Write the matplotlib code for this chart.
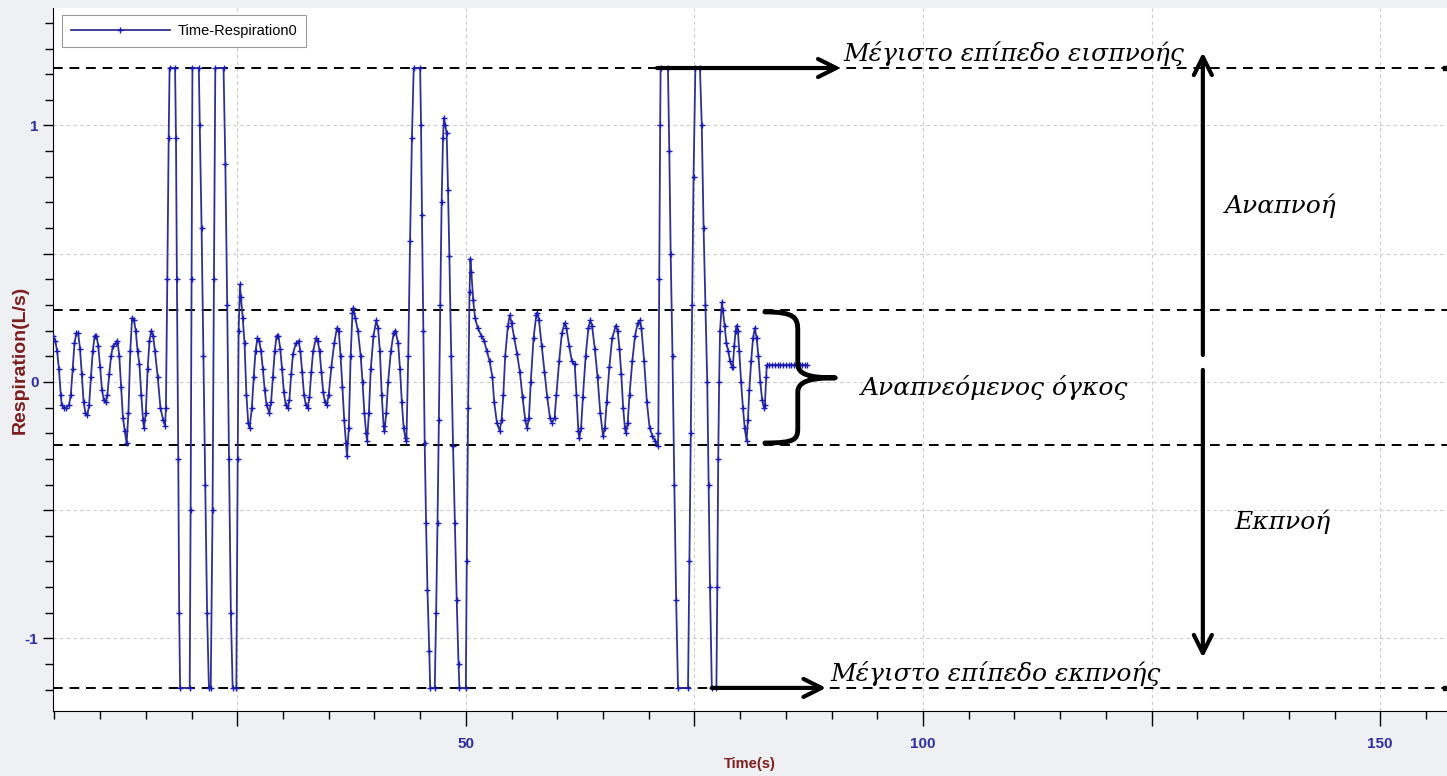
import numpy as np
import matplotlib
matplotlib.use("Agg")
import matplotlib.pyplot as plt
from matplotlib.path import Path
from matplotlib.patches import PathPatch
from matplotlib.ticker import MultipleLocator, FuncFormatter

# ── δεδομένα (διαβασμένα από την εικόνα) ─────────────────────────────────────
time_s = [
    # ήρεμη αναπνοή 1
    4.9, 5.1, 5.3, 5.5, 5.7, 5.8, 6.0, 6.3, 6.6, 6.8, 7.0, 7.2, 7.4, 7.6, 7.8,
    8.0, 8.2, 8.4, 8.6, 8.8, 9.0, 9.2, 9.4, 9.6, 9.8, 10.0, 10.2, 10.4, 10.6,
    10.8, 11.0, 11.2, 11.4, 11.7, 11.9, 12.1, 12.3, 12.5, 12.7, 12.9, 13.1,
    13.3, 13.5, 13.7, 13.9, 14.1, 14.3, 14.5, 14.7, 14.8, 15.0, 15.2, 15.4,
    15.6, 15.8, 16.0, 16.3, 16.6, 16.9, 17.1,
    # βαθιές αναπνοές 1
    17.2, 17.35, 17.5, 17.6, 18.2, 18.3, 18.4, 18.55, 18.65, 18.75, 19.8,
    19.9, 20.0, 20.1, 20.8, 20.9, 21.1, 21.3, 21.5, 21.7, 21.9, 22.1, 22.3,
    22.45, 22.6, 23.5, 23.7, 23.9, 24.1, 24.3, 24.5, 24.9, 25.05, 25.15,
    25.3, 25.4, 25.6, 25.8, 26.0, 26.2, 26.35,
    # ήρεμη αναπνοή 2
    26.6, 26.8, 27.0, 27.2, 27.4, 27.6, 27.8, 28.0, 28.2, 28.5, 28.7, 28.9,
    29.1, 29.3, 29.5, 29.7, 29.9, 30.1, 30.3, 30.5, 30.7, 30.9, 31.1, 31.4,
    31.7, 31.9, 32.1, 32.3, 32.5, 32.7, 32.9, 33.1, 33.3, 33.6, 33.8, 34.0,
    34.2, 34.4, 34.6, 34.8, 35.0, 35.3, 35.6, 35.9, 36.1, 36.3, 36.5, 36.7,
    36.9, 37.0, 37.2, 37.4, 37.6, 37.7, 37.9, 38.2, 38.5, 38.7, 38.9, 39.1,
    39.2, 39.4, 39.6, 39.9, 40.2, 40.4, 40.6, 40.8, 41.0, 41.1, 41.3, 41.5,
    41.8, 42.1, 42.3, 42.6, 42.8, 43.0, 43.2, 43.4, 43.5,
    # βαθιές αναπνοές 2
    43.7, 43.9, 44.1, 44.3, 45.0, 45.1, 45.2, 45.35, 45.5, 45.65, 45.8, 46.0,
    46.1, 46.6, 46.75, 46.9, 47.05, 47.2, 47.35, 47.5, 47.6, 47.75, 47.9,
    48.05, 48.2, 48.4, 48.6, 48.8, 49.0, 49.2, 49.3, 50.0, 50.1, 50.25,
    50.4, 50.5,
    # ήρεμη αναπνοή 3
    50.6, 50.8, 51.0, 51.3, 51.7, 52.0, 52.3, 52.6, 52.9, 53.1, 53.4, 53.7,
    53.9, 54.1, 54.3, 54.6, 54.8, 55.0, 55.3, 55.6, 55.9, 56.2, 56.5, 56.7,
    56.9, 57.1, 57.4, 57.7, 57.8, 58.0, 58.3, 58.6, 58.9, 59.2, 59.4, 59.7,
    59.9, 60.2, 60.5, 60.8, 61.0, 61.3, 61.6, 61.9, 62.1, 62.3, 62.4, 62.6,
    62.8, 63.1, 63.4, 63.6, 63.8, 64.1, 64.4, 64.7, 65.0, 65.2, 65.4, 65.7,
    66.0, 66.4, 66.6, 66.8, 67.0, 67.2, 67.4, 67.5, 67.7, 67.9, 68.2, 68.5,
    68.8, 69.0, 69.2, 69.5, 69.8, 70.1, 70.4, 70.7, 71.0,
    # βαθιές αναπνοές 3
    71.05, 71.15, 71.25, 71.3, 72.1, 72.25, 72.4, 72.6, 72.8, 73.0, 73.2,
    74.3, 74.45, 74.6, 74.75, 74.9, 75.1, 75.6, 75.8, 76.0, 76.2, 76.4,
    76.55, 76.7, 76.9, 77.4, 77.5, 77.6, 77.7, 77.8, 78.0,
    # ήρεμη αναπνοή 4 + σταθερό τμήμα
    78.1, 78.3, 78.5, 78.7, 78.9, 79.1, 79.2, 79.35, 79.5, 79.6, 79.75, 79.9,
    80.1, 80.3, 80.5, 80.7, 80.85, 81.0, 81.2, 81.4, 81.6, 81.8, 82.0, 82.2,
    82.4, 82.6, 82.7, 82.85, 82.9, 83.2, 83.5, 83.8, 84.1, 84.4, 84.7, 85.0,
    85.3, 85.6, 85.9, 86.2, 86.5, 86.8, 87.1, 87.3,
]
resp = [
    # ήρεμη αναπνοή 1
    0.18, 0.16, 0.12, 0.05, -0.05, -0.09, -0.10, -0.10, -0.09, -0.05, 0.05,
    0.15, 0.19, 0.19, 0.13, 0.03, -0.08, -0.12, -0.13, -0.09, 0.02, 0.12,
    0.18, 0.18, 0.14, 0.06, -0.03, -0.07, -0.08, -0.05, 0.03, 0.10, 0.14,
    0.15, 0.16, 0.10, -0.02, -0.14, -0.19, -0.24, -0.12, 0.12, 0.25, 0.24,
    0.20, 0.12, 0.07, -0.05, -0.15, -0.18, -0.12, 0.05, 0.16, 0.20, 0.18,
    0.12, 0.02, -0.10, -0.15, -0.17,
    # βαθιές αναπνοές 1
    -0.10, 0.40, 0.95, 1.224, 1.224, 0.95, 0.40, -0.30, -0.90, -1.193,
    -1.193, -0.50, 0.40, 1.224, 1.224, 1.00, 0.60, 0.10, -0.40, -0.90,
    -1.193, -1.193, -0.50, 0.40, 1.224, 1.224, 0.85, 0.30, -0.30, -0.90,
    -1.193, -1.193, -0.30, 0.20, 0.38, 0.33, 0.25, 0.15, -0.05, -0.16, -0.18,
    # ήρεμη αναπνοή 2
    -0.10, 0.02, 0.12, 0.17, 0.16, 0.12, 0.05, -0.03, -0.09, -0.12, -0.08,
    0.02, 0.12, 0.18, 0.18, 0.13, 0.05, -0.04, -0.09, -0.10, -0.07, 0.03,
    0.11, 0.15, 0.16, 0.12, 0.04, -0.05, -0.09, -0.10, -0.06, 0.04, 0.12,
    0.17, 0.16, 0.12, 0.04, -0.04, -0.08, -0.09, -0.05, 0.06, 0.15, 0.21,
    0.20, 0.10, -0.02, -0.15, -0.24, -0.29, -0.18, 0.10, 0.27, 0.29, 0.25,
    0.20, 0.10, 0.00, -0.12, -0.20, -0.23, -0.12, 0.05, 0.18, 0.24, 0.21,
    0.12, -0.05, -0.17, -0.19, -0.12, 0.00, 0.12, 0.19, 0.20, 0.15, 0.05,
    -0.08, -0.18, -0.22, -0.23,
    # βαθιές αναπνοές 2
    0.10, 0.55, 0.95, 1.224, 1.224, 1.00, 0.65, 0.20, -0.24, -0.55, -0.81,
    -1.05, -1.193, -1.193, -0.90, -0.55, -0.15, 0.30, 0.70, 0.95, 1.03,
    1.00, 0.97, 0.75, 0.49, 0.10, -0.25, -0.55, -0.85, -1.10, -1.193,
    -1.193, -0.70, -0.10, 0.35, 0.48,
    # ήρεμη αναπνοή 3
    0.43, 0.32, 0.25, 0.21, 0.18, 0.16, 0.12, 0.08, 0.02, -0.08, -0.16,
    -0.19, -0.15, -0.05, 0.10, 0.22, 0.26, 0.23, 0.17, 0.11, 0.04, -0.06,
    -0.15, -0.18, -0.14, 0.00, 0.17, 0.26, 0.27, 0.24, 0.14, 0.04, -0.06,
    -0.14, -0.16, -0.14, -0.05, 0.08, 0.19, 0.23, 0.21, 0.14, 0.08, 0.07,
    -0.05, -0.19, -0.22, -0.18, -0.06, 0.10, 0.21, 0.24, 0.22, 0.13, 0.02,
    -0.12, -0.21, -0.18, -0.08, 0.06, 0.17, 0.22, 0.20, 0.13, 0.03, -0.10,
    -0.18, -0.20, -0.16, -0.05, 0.08, 0.18, 0.23, 0.24, 0.21, 0.08, -0.08,
    -0.18, -0.21, -0.23, -0.25,
    # βαθιές αναπνοές 3
    -0.20, 0.40, 1.00, 1.224, 1.224, 0.90, 0.50, 0.10, -0.40, -0.85,
    -1.193, -1.193, -0.70, -0.20, 0.30, 0.80, 1.224, 1.224, 1.00, 0.60,
    0.30, 0.00, -0.40, -0.80, -1.193, -1.193, -0.80, -0.30, 0.00, 0.20, 0.31,
    # ήρεμη αναπνοή 4 + σταθερό τμήμα
    0.28, 0.22, 0.15, 0.12, 0.08, 0.06, 0.06, 0.14, 0.20, 0.22, 0.20, 0.12,
    0.00, -0.10, -0.18, -0.23, -0.15, -0.03, 0.08, 0.17, 0.21, 0.17, 0.10,
    0.00, -0.07, -0.10, -0.09, 0.02, 0.066, 0.066, 0.066, 0.066, 0.066,
    0.066, 0.066, 0.066, 0.066, 0.066, 0.066, 0.066, 0.066, 0.066, 0.066,
    0.066,
]

# οριζόντιες διακεκομμένες: μέγιστη εισπνοή, όρια αναπνεόμενου όγκου, μέγιστη εκπνοή
ref_levels = [1.224, 0.281, -0.246, -1.193]

x_lim = (4.85, 157.3)
y_lim = (-1.283, 1.458)

LINE_C = "#2f3190"
MARK_C = "#1a1ab8"
TICK_C = "#2e2e9e"
LABEL_C = "#7d1d1d"
GREEK = dict(family="DejaVu Serif", style="italic", fontsize=18, color="black")

fig = plt.figure(figsize=(14.47, 7.76), dpi=100, facecolor="#eff0f3")
ax = fig.add_axes([53 / 1447, 65 / 776, 1394 / 1447, 703 / 776])
ax.set_facecolor("white")

ax.plot(time_s, resp, "-", color=LINE_C, lw=1.3, marker="+", ms=4.5,
        mec=MARK_C, mew=1.0, label="Time-Respiration0", zorder=3)

for lvl in ref_levels:
    ax.axhline(lvl, color="black", lw=1.4, ls=(0, (5, 3.5)), zorder=2)
for lvl in (ref_levels[0], ref_levels[-1]):
    ax.plot(x_lim[1] - 0.25, lvl, "s", color="black", ms=3, zorder=4)

ax.set_xlim(*x_lim)
ax.set_ylim(*y_lim)

# άξονες / ticks
ax.xaxis.set_major_locator(MultipleLocator(25))
ax.xaxis.set_minor_locator(MultipleLocator(5))
ax.yaxis.set_major_locator(MultipleLocator(0.5))
ax.yaxis.set_minor_locator(MultipleLocator(0.1))
ax.xaxis.set_major_formatter(FuncFormatter(lambda v, p: f"{v:.0f}" if v % 50 == 0 else ""))
ax.yaxis.set_major_formatter(FuncFormatter(lambda v, p: f"{v:.0f}" if abs(v - round(v)) < 1e-6 else ""))
ax.tick_params(which="major", direction="out", length=11, width=1, color="black",
               labelcolor=TICK_C, labelsize=11)
ax.tick_params(which="minor", direction="out", length=6, width=1, color="black")
ax.tick_params(axis="y", which="major", length=7)
ax.tick_params(axis="x", which="major", pad=8)
for lab in ax.get_xticklabels() + ax.get_yticklabels():
    lab.set_fontweight("bold")
    lab.set_family("Liberation Sans")
ax.grid(True, which="major", color="#c9c9c9", ls=(0, (3, 3)), lw=0.8)
for s in ("top", "right"):
    ax.spines[s].set_visible(False)

ax.set_xlabel("Time(s)", color=LABEL_C, fontsize=10.5, fontweight="bold",
              family="Liberation Sans", labelpad=4)
ax.set_ylabel("Respiration(L/s)", color=LABEL_C, fontsize=14, fontweight="bold",
              family="Liberation Sans", labelpad=-3)

leg = ax.legend(loc="upper left", bbox_to_anchor=(0.0065, 0.99), borderaxespad=0,
                fancybox=False, edgecolor="#9a9a9a", framealpha=1,
                handlelength=6.8, handletextpad=0.5, borderpad=0.6,
                prop=dict(family="Liberation Sans", size=10.5))
leg.get_frame().set_linewidth(0.8)

# ── σχόλια ───────────────────────────────────────────────────────────────────
arrow = dict(arrowstyle="->,head_length=1.3,head_width=0.65", color="black",
             lw=3, shrinkA=0, shrinkB=0)
ax.annotate("", xy=(91.0, ref_levels[0]), xytext=(70.9, ref_levels[0]), arrowprops=arrow)
ax.annotate("", xy=(89.4, ref_levels[-1]), xytext=(76.9, ref_levels[-1]), arrowprops=arrow)
ax.annotate("", xy=(130.6, 1.285), xytext=(130.6, 0.105), arrowprops=arrow)
ax.annotate("", xy=(130.6, -1.075), xytext=(130.6, 0.047), arrowprops=arrow)

ax.text(91.3, 1.25, "Μέγιστο επίπεδο εισπνοής", va="baseline", **GREEK)
ax.text(89.9, -1.165, "Μέγιστο επίπεδο εκπνοής", va="baseline", **GREEK)
ax.text(133.0, 0.66, "Αναπνοή", va="baseline", **GREEK)
ax.text(134.0, -0.575, "Εκπνοή", va="baseline", **GREEK)
ax.text(93.2, -0.05, "Αναπνεόμενος όγκος", va="baseline", **GREEK)

# άγκιστρο
verts = [
    (82.7, 0.273), (86.0, 0.273), (86.3, 0.25), (86.3, 0.20),
    (86.3, 0.07),
    (86.3, 0.03), (87.5, 0.016), (90.4, 0.016),
    (87.5, 0.016), (86.3, 0.0), (86.3, -0.04),
    (86.3, -0.18),
    (86.3, -0.225), (86.0, -0.238), (82.7, -0.238),
]
codes = [Path.MOVETO, Path.CURVE4, Path.CURVE4, Path.CURVE4, Path.LINETO,
         Path.CURVE4, Path.CURVE4, Path.CURVE4, Path.CURVE4, Path.CURVE4,
         Path.CURVE4, Path.LINETO, Path.CURVE4, Path.CURVE4, Path.CURVE4]
ax.add_patch(PathPatch(Path(verts, codes), fill=False, lw=3.5, color="black",
                       capstyle="round", joinstyle="round", zorder=5))

fig.savefig("out.png", dpi=100, facecolor=fig.get_facecolor())
